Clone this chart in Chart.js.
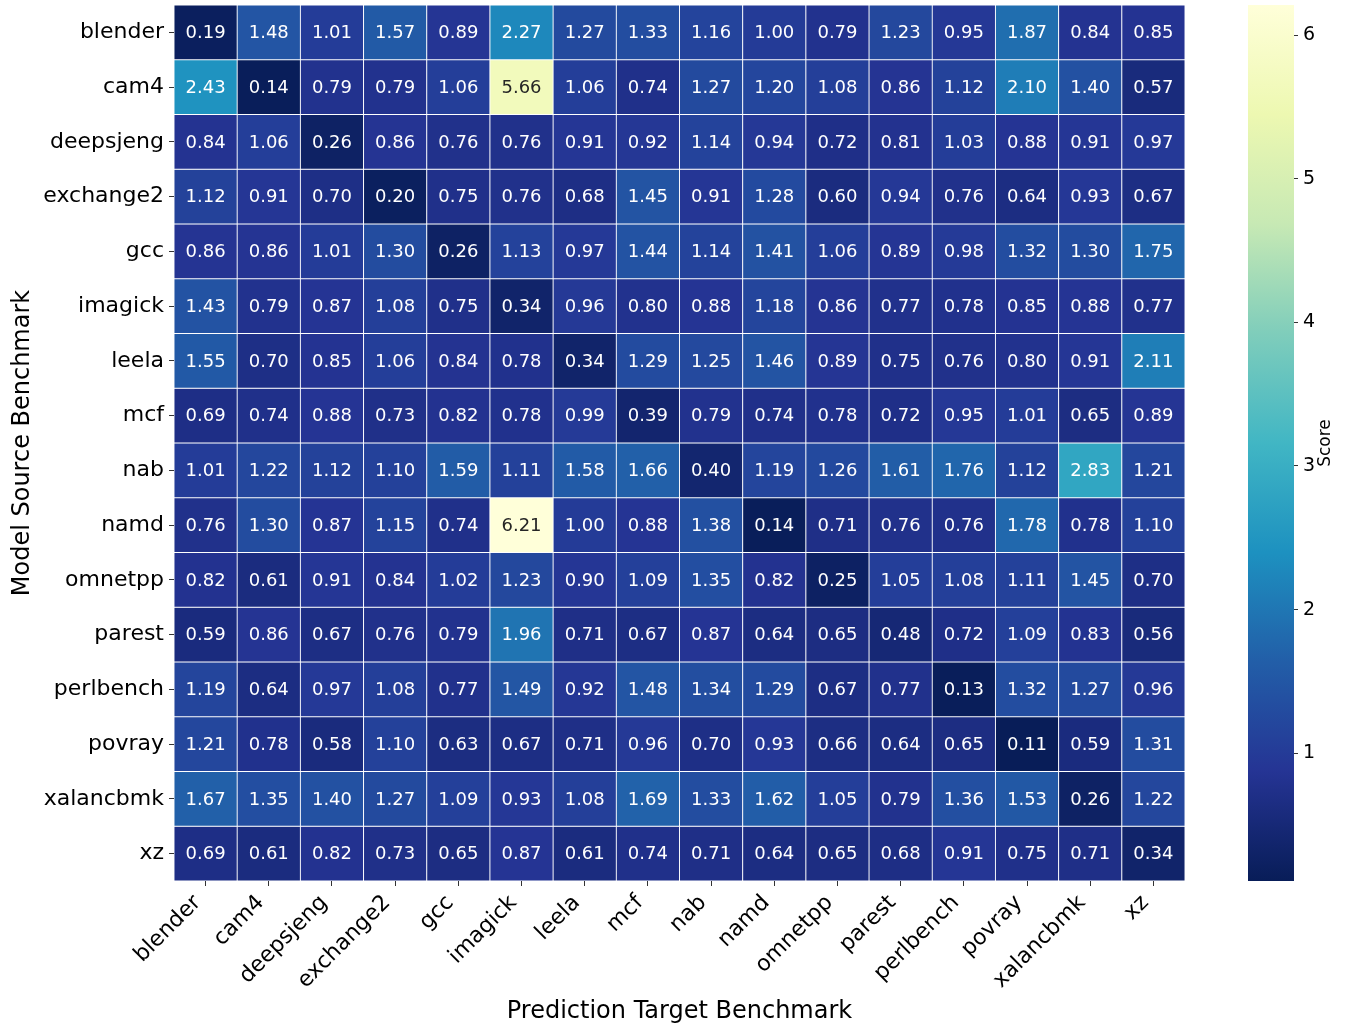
<!DOCTYPE html>
<html>
<head>
<meta charset="utf-8">
<script src="https://cdn.jsdelivr.net/npm/chart.js@4/dist/chart.umd.min.js"></script>
<style>
  html, body { margin: 0; padding: 0; background: #ffffff; }
  #wrap { position: relative; width: 1350px; height: 1028px; background: #ffffff; }
  canvas { position: absolute; top: 0; }
  #main { left: 0; }
  #cbar { left: 1200px; }
</style>
</head>
<body>
<div id="wrap">
  <canvas id="main" width="1350" height="1028"></canvas>
  <canvas id="cbar" width="150" height="1028"></canvas>
</div>
<script>
// ---------------- data ----------------
const ROW_LABELS = ['blender','cam4','deepsjeng','exchange2','gcc','imagick','leela','mcf','nab','namd','omnetpp','parest','perlbench','povray','xalancbmk','xz'];
const COL_LABELS = ['blender','cam4','deepsjeng','exchange2','gcc','imagick','leela','mcf','nab','namd','omnetpp','parest','perlbench','povray','xalancbmk','xz'];

const blender   = [0.19,1.48,1.01,1.57,0.89,2.27,1.27,1.33,1.16,1.00,0.79,1.23,0.95,1.87,0.84,0.85];
const cam4      = [2.43,0.14,0.79,0.79,1.06,5.66,1.06,0.74,1.27,1.20,1.08,0.86,1.12,2.10,1.40,0.57];
const deepsjeng = [0.84,1.06,0.26,0.86,0.76,0.76,0.91,0.92,1.14,0.94,0.72,0.81,1.03,0.88,0.91,0.97];
const exchange2 = [1.12,0.91,0.70,0.20,0.75,0.76,0.68,1.45,0.91,1.28,0.60,0.94,0.76,0.64,0.93,0.67];
const gcc       = [0.86,0.86,1.01,1.30,0.26,1.13,0.97,1.44,1.14,1.41,1.06,0.89,0.98,1.32,1.30,1.75];
const imagick   = [1.43,0.79,0.87,1.08,0.75,0.34,0.96,0.80,0.88,1.18,0.86,0.77,0.78,0.85,0.88,0.77];
const leela     = [1.55,0.70,0.85,1.06,0.84,0.78,0.34,1.29,1.25,1.46,0.89,0.75,0.76,0.80,0.91,2.11];
const mcf       = [0.69,0.74,0.88,0.73,0.82,0.78,0.99,0.39,0.79,0.74,0.78,0.72,0.95,1.01,0.65,0.89];
const nab       = [1.01,1.22,1.12,1.10,1.59,1.11,1.58,1.66,0.40,1.19,1.26,1.61,1.76,1.12,2.83,1.21];
const namd      = [0.76,1.30,0.87,1.15,0.74,6.21,1.00,0.88,1.38,0.14,0.71,0.76,0.76,1.78,0.78,1.10];
const omnetpp   = [0.82,0.61,0.91,0.84,1.02,1.23,0.90,1.09,1.35,0.82,0.25,1.05,1.08,1.11,1.45,0.70];
const parest    = [0.59,0.86,0.67,0.76,0.79,1.96,0.71,0.67,0.87,0.64,0.65,0.48,0.72,1.09,0.83,0.56];
const perlbench = [1.19,0.64,0.97,1.08,0.77,1.49,0.92,1.48,1.34,1.29,0.67,0.77,0.13,1.32,1.27,0.96];
const povray    = [1.21,0.78,0.58,1.10,0.63,0.67,0.71,0.96,0.70,0.93,0.66,0.64,0.65,0.11,0.59,1.31];
const xalancbmk = [1.67,1.35,1.40,1.27,1.09,0.93,1.08,1.69,1.33,1.62,1.05,0.79,1.36,1.53,0.26,1.22];
const xz        = [0.69,0.61,0.82,0.73,0.65,0.87,0.61,0.74,0.71,0.64,0.65,0.68,0.91,0.75,0.71,0.34];

const SCORES = [blender,cam4,deepsjeng,exchange2,gcc,imagick,leela,mcf,nab,namd,omnetpp,parest,perlbench,povray,xalancbmk,xz];
const CBAR_TICKS = [1,2,3,4,5,6];
const X_TITLE = 'Prediction Target Benchmark';
const Y_TITLE = 'Model Source Benchmark';
const CBAR_TITLE = 'Score';

// ---------------- colormap (YlGnBu reversed) ----------------
const STOPS = ['#081d58','#253494','#225ea8','#1d91c0','#41b6c4','#7fcdbb','#c7e9b4','#edf8b1','#ffffd9'];
const flat = SCORES.flat();
const VMIN = Math.min(...flat);
const VMAX = Math.max(...flat);

function hexRgb(h){ return [parseInt(h.slice(1,3),16), parseInt(h.slice(3,5),16), parseInt(h.slice(5,7),16)]; }
const STOP_RGB = STOPS.map(hexRgb);
function cmapRgb(v){
  let t = (v - VMIN) / (VMAX - VMIN);
  t = Math.max(0, Math.min(1, t));
  const p = t * (STOP_RGB.length - 1);
  const k = Math.min(Math.floor(p), STOP_RGB.length - 2);
  const f = p - k;
  const a = STOP_RGB[k], b = STOP_RGB[k+1];
  return [0,1,2].map(c => Math.round(a[c] + (b[c]-a[c]) * f));
}
function cmap(v){ const c = cmapRgb(v); return `rgb(${c[0]},${c[1]},${c[2]})`; }
function textColor(v){
  const lin = cmapRgb(v).map(x => { x /= 255; return x <= 0.03928 ? x/12.92 : Math.pow((x+0.055)/1.055, 2.4); });
  const lum = 0.2126*lin[0] + 0.7152*lin[1] + 0.0722*lin[2];
  return lum > 0.408 ? '#262626' : '#ffffff';
}

Chart.defaults.font.family = "'DejaVu Sans', sans-serif";
Chart.defaults.color = '#000000';

// ---------------- main heatmap ----------------
const datasets = ROW_LABELS.map((r, i) => ({
  label: r,
  data: COL_LABELS.map(() => [i, i + 1]),
  backgroundColor: SCORES[i].map(v => cmap(v)),
  borderColor: '#ffffff',
  borderWidth: 0.8,
  borderSkipped: false,
  barPercentage: 1,
  categoryPercentage: 1,
  grouped: false
}));

const annotate = {
  id: 'annotate',
  afterDatasetsDraw(chart) {
    const {ctx, scales: {x, y}} = chart;
    ctx.save();
    ctx.font = "18px 'DejaVu Sans', sans-serif";
    ctx.textAlign = 'center';
    ctx.textBaseline = 'middle';
    SCORES.forEach((row, i) => row.forEach((v, j) => {
      ctx.fillStyle = textColor(v);
      ctx.fillText(v.toFixed(2), x.getPixelForValue(j), y.getPixelForValue(i + 0.5) + 1);
    }));
    ctx.restore();
  }
};

new Chart(document.getElementById('main'), {
  type: 'bar',
  data: { labels: COL_LABELS, datasets },
  options: {
    responsive: false,
    animation: false,
    events: [],
    layout: { autoPadding: false, padding: { left: 0, top: 5, right: 165, bottom: 0 } },
    plugins: { legend: { display: false }, tooltip: { enabled: false } },
    scales: {
      x: {
        type: 'category',
        offset: true,
        ticks: { autoSkip: false, maxRotation: 45, minRotation: 45, font: { size: 22 }, color: '#000', padding: 4, labelOffset: -8 },
        grid: { offset: false, drawOnChartArea: false, drawTicks: true, tickLength: 5, color: '#333', lineWidth: 1 },
        border: { display: false },
        title: { display: true, text: X_TITLE, font: { size: 24 }, color: '#000', padding: { top: 0, bottom: 2 } },
        afterFit: s => { s.height = 147; s.paddingLeft = 0; s.paddingRight = 0; }
      },
      y: {
        type: 'linear',
        min: 0,
        max: ROW_LABELS.length,
        reverse: true,
        afterBuildTicks: s => { s.ticks = ROW_LABELS.map((_, i) => ({ value: i + 0.5 })); },
        ticks: { autoSkip: false, callback: (v, i) => ROW_LABELS[i], font: { size: 22 }, color: '#000', padding: 5 },
        grid: { drawOnChartArea: false, drawTicks: true, tickLength: 5, color: '#333', lineWidth: 1 },
        border: { display: false },
        title: { display: true, text: Y_TITLE, font: { size: 24 }, color: '#000', padding: { top: 8, bottom: 0 } },
        afterFit: s => { s.width = 174; s.paddingTop = 0; s.paddingBottom = 0; }
      }
    }
  },
  plugins: [annotate]
});

// ---------------- colorbar ----------------
const cbarLabel = {
  id: 'cbarLabel',
  afterDraw(chart) {
    const {ctx, chartArea} = chart;
    ctx.save();
    ctx.translate(126, (chartArea.top + chartArea.bottom) / 2);
    ctx.rotate(-Math.PI / 2);
    ctx.font = "17px 'DejaVu Sans', sans-serif";
    ctx.fillStyle = '#000';
    ctx.textAlign = 'center';
    ctx.textBaseline = 'middle';
    ctx.fillText(CBAR_TITLE, 0, 0);
    ctx.restore();
  }
};

new Chart(document.getElementById('cbar'), {
  type: 'bar',
  data: {
    labels: [CBAR_TITLE],
    datasets: [{
      data: [[VMIN, VMAX]],
      backgroundColor: (c) => {
        const chart = c.chart;
        const ys = chart.scales && chart.scales.y;
        if (!chart.chartArea || !ys) return STOPS[0];
        const g = chart.ctx.createLinearGradient(0, ys.getPixelForValue(VMIN), 0, ys.getPixelForValue(VMAX));
        STOPS.forEach((s, k) => g.addColorStop(k / (STOPS.length - 1), s));
        return g;
      },
      borderWidth: 0,
      barPercentage: 1,
      categoryPercentage: 1
    }]
  },
  options: {
    responsive: false,
    animation: false,
    events: [],
    layout: { autoPadding: false, padding: { left: 48, top: 5, right: 0, bottom: 147 } },
    plugins: { legend: { display: false }, tooltip: { enabled: false } },
    scales: {
      x: { display: false },
      y: {
        type: 'linear',
        position: 'right',
        min: VMIN,
        max: VMAX,
        afterBuildTicks: s => { s.ticks = CBAR_TICKS.map(v => ({ value: v })); },
        ticks: { font: { size: 19 }, color: '#000', padding: 5 },
        grid: { drawOnChartArea: false, drawTicks: true, tickLength: 4, color: '#333', lineWidth: 1 },
        border: { display: false },
        afterFit: s => { s.width = 56; s.paddingTop = 0; s.paddingBottom = 0; }
      }
    }
  },
  plugins: [cbarLabel]
});
</script>
</body>
</html>
